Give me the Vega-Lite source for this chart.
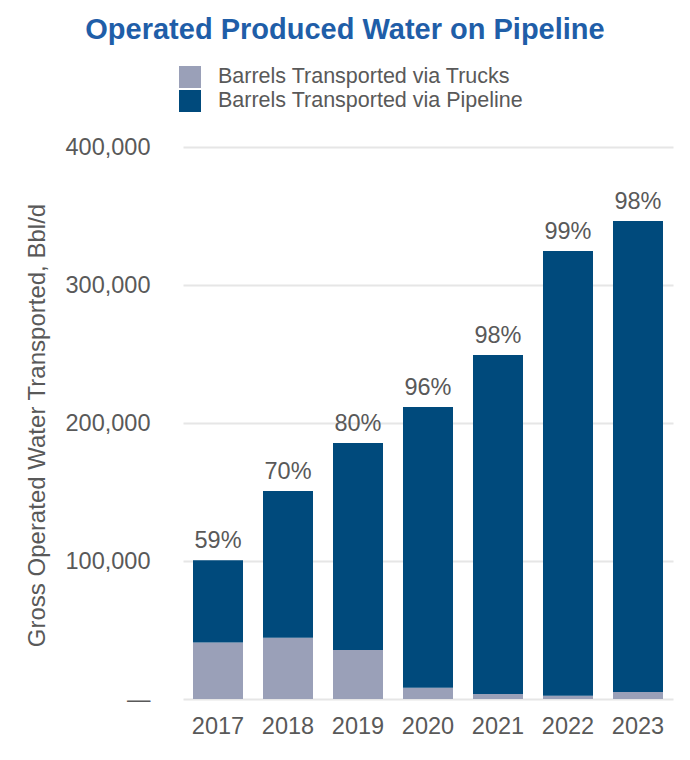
{
  "$schema": "https://vega.github.io/schema/vega-lite/v6.json",
  "width": 490,
  "height": 552,
  "autosize": {"type": "none"},
  "padding": {"left": 183, "top": 147, "right": 17, "bottom": 61},
  "background": "white",
  "config": {
    "font": "Liberation Sans",
    "view": {"stroke": null}
  },
  "title": {
    "text": "Operated Produced Water on Pipeline",
    "fontSize": 29,
    "fontWeight": "bold",
    "color": "#1f5ea8",
    "anchor": "middle",
    "frame": "group",
    "dx": -83,
    "offset": 21
  },
  "datasets": {
    "bars": [
      {"year": "2017", "type": "Barrels Transported via Trucks", "ord": 1, "value": 41000},
      {"year": "2017", "type": "Barrels Transported via Pipeline", "ord": 2, "value": 59500},
      {"year": "2018", "type": "Barrels Transported via Trucks", "ord": 1, "value": 44400},
      {"year": "2018", "type": "Barrels Transported via Pipeline", "ord": 2, "value": 106300},
      {"year": "2019", "type": "Barrels Transported via Trucks", "ord": 1, "value": 35500},
      {"year": "2019", "type": "Barrels Transported via Pipeline", "ord": 2, "value": 150000},
      {"year": "2020", "type": "Barrels Transported via Trucks", "ord": 1, "value": 8200},
      {"year": "2020", "type": "Barrels Transported via Pipeline", "ord": 2, "value": 203400},
      {"year": "2021", "type": "Barrels Transported via Trucks", "ord": 1, "value": 3600},
      {"year": "2021", "type": "Barrels Transported via Pipeline", "ord": 2, "value": 245700},
      {"year": "2022", "type": "Barrels Transported via Trucks", "ord": 1, "value": 2400},
      {"year": "2022", "type": "Barrels Transported via Pipeline", "ord": 2, "value": 322200},
      {"year": "2023", "type": "Barrels Transported via Trucks", "ord": 1, "value": 5100},
      {"year": "2023", "type": "Barrels Transported via Pipeline", "ord": 2, "value": 341300}
    ],
    "labels": [
      {"year": "2017", "total": 100500, "pct": "59%"},
      {"year": "2018", "total": 150700, "pct": "70%"},
      {"year": "2019", "total": 185500, "pct": "80%"},
      {"year": "2020", "total": 211600, "pct": "96%"},
      {"year": "2021", "total": 249300, "pct": "98%"},
      {"year": "2022", "total": 324600, "pct": "99%"},
      {"year": "2023", "total": 346400, "pct": "98%"}
    ]
  },
  "encoding": {
    "x": {
      "field": "year",
      "type": "ordinal",
      "scale": {"paddingInner": 0.2857, "paddingOuter": 0.1429},
      "axis": {
        "title": null,
        "labelAngle": 0,
        "labelFontSize": 23.5,
        "labelColor": "#595959",
        "labelPadding": 15,
        "ticks": false,
        "tickSize": 0,
        "domain": false
      }
    }
  },
  "layer": [
    {
      "data": {"name": "bars"},
      "mark": {"type": "bar"},
      "encoding": {
        "y": {
          "field": "value",
          "type": "quantitative",
          "stack": "zero",
          "scale": {"domain": [0, 400000]},
          "axis": {
            "title": "Gross Operated Water Transported, Bbl/d",
            "titleFontSize": 24,
            "titleFontWeight": "normal",
            "titleColor": "#595959",
            "titleAngle": -90,
            "titleX": -146,
            "titleY": 278,
            "titleAlign": "center",
            "titleBaseline": "middle",
            "values": [0, 100000, 200000, 300000, 400000],
            "labelExpr": "datum.value === 0 ? '—' : format(datum.value, ',')",
            "labelFontSize": 23.5,
            "labelColor": "#595959",
            "labelPadding": 33,
            "ticks": false,
            "tickSize": 0,
            "domain": false,
            "gridColor": "#e6e6e6",
            "gridWidth": 2
          }
        },
        "color": {
          "field": "type",
          "type": "nominal",
          "scale": {
            "domain": ["Barrels Transported via Trucks", "Barrels Transported via Pipeline"],
            "range": ["#9aa0b8", "#004a7c"]
          },
          "legend": {
            "title": null,
            "orient": "none",
            "legendX": -4,
            "legendY": -81,
            "symbolType": "square",
            "symbolSize": 484,
            "symbolStrokeWidth": 0,
            "symbolOpacity": 1,
            "labelFontSize": 21.5,
            "labelLimit": 500,
            "labelColor": "#595959",
            "labelOffset": 17,
            "rowPadding": 2
          }
        },
        "order": {"field": "ord", "type": "quantitative", "sort": "ascending"}
      }
    },
    {
      "data": {"name": "labels"},
      "mark": {"type": "text", "fontSize": 23.5, "color": "#595959", "baseline": "alphabetic", "dy": -12},
      "encoding": {
        "y": {"field": "total", "type": "quantitative"},
        "text": {"field": "pct", "type": "nominal"}
      }
    }
  ]
}
